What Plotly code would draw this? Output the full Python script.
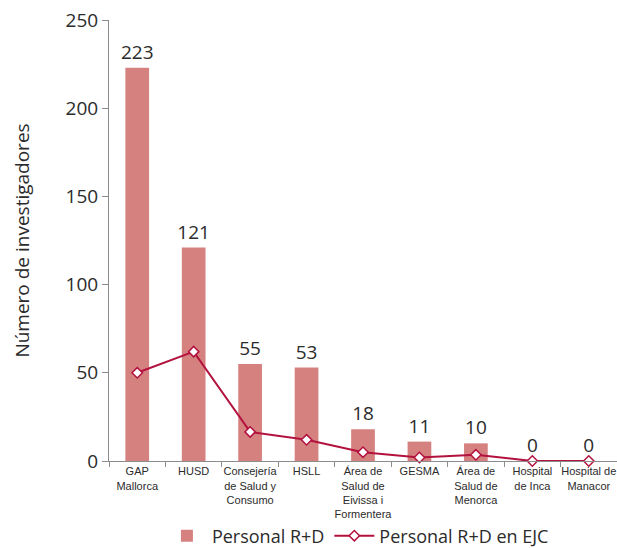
import plotly.graph_objects as go

categories = [
    "GAP<br>Mallorca", "HUSD", "Consejería<br>de Salud y<br>Consumo", "HSLL",
    "Área de<br>Salud de<br>Eivissa i<br>Formentera", "GESMA",
    "Área de<br>Salud de<br>Menorca", "Hospital<br>de Inca", "Hospital de<br>Manacor",
]
personal_rd = [223, 121, 55, 53, 18, 11, 10, 0, 0]
personal_ejc = [50, 62, 16.5, 12, 5, 2, 3.5, 0, 0]
y_ticks = [0, 50, 100, 150, 200, 250]

BAR_COLOR = "#d5817f"
LINE_COLOR = "#b3123e"
TEXT_COLOR = "#2b2b2b"
AXIS_COLOR = "#8c8c8c"

fig = go.Figure()
fig.add_trace(go.Bar(
    x=categories, y=personal_rd, name="Personal R+D",
    marker=dict(color=BAR_COLOR, line=dict(width=0)),
    width=0.42,
    text=[str(v) for v in personal_rd], textposition="outside",
    constraintext="none",
    textfont=dict(size=19, color=TEXT_COLOR, family="Open Sans"),
    cliponaxis=False,
))
fig.add_trace(go.Scatter(
    x=categories, y=personal_ejc, name="Personal R+D en EJC",
    mode="lines+markers",
    line=dict(color=LINE_COLOR, width=2),
    marker=dict(symbol="diamond", size=8, color="white",
                line=dict(color=LINE_COLOR, width=1.5)),
    cliponaxis=False,
))

fig.update_layout(
    width=617, height=548,
    margin=dict(l=109, r=0, t=20, b=87, autoexpand=False),
    paper_bgcolor="white", plot_bgcolor="white",
    font=dict(family="Open Sans", color=TEXT_COLOR),
    showlegend=True,
    legend=dict(orientation="h", x=0.49, xanchor="center", y=-0.17, yanchor="middle",
                bgcolor="rgba(0,0,0,0)",
                font=dict(size=18, color=TEXT_COLOR), itemwidth=40,
                traceorder="normal"),
    bargap=0.58,
)
fig.update_xaxes(
    showline=True, linecolor=AXIS_COLOR, linewidth=1, automargin=False,
    ticks="outside", tickson="boundaries", ticklen=5, tickcolor=AXIS_COLOR,
    tickfont=dict(size=11, family="Liberation Sans Narrow, Arial Narrow, sans-serif", color=TEXT_COLOR),
    tickangle=0, range=[-0.5, 8.5], showgrid=False,
)
fig.update_yaxes(
    range=[0, 250], tickvals=y_ticks, automargin=False,
    showline=True, linecolor=AXIS_COLOR, linewidth=1,
    ticks="outside", ticklen=6, tickcolor=AXIS_COLOR,
    tickfont=dict(size=19, color=TEXT_COLOR), showgrid=False, zeroline=False,
    title=dict(text="Número de investigadores", font=dict(size=19, color=TEXT_COLOR), standoff=30),
)

fig.write_html("out.html")
